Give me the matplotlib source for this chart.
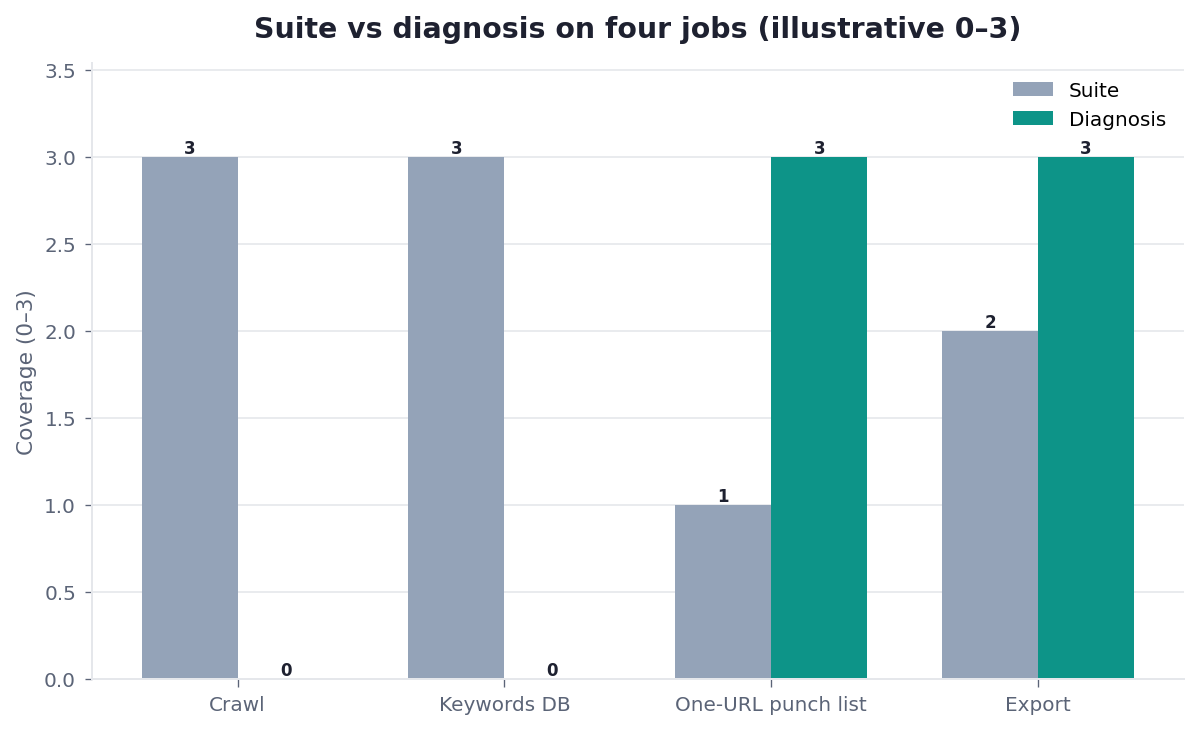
import numpy as np
import matplotlib.pyplot as plt

# Data
jobs = ["Crawl", "Keywords DB", "One-URL punch list", "Export"]
suite = [3, 3, 1, 2]
diagnosis = [0, 0, 3, 3]

suite_color = "#94A3B8"
diag_color = "#0D9488"
text_dark = "#1E2130"
text_muted = "#5B6477"
line_light = "#E5E7EB"

fig, ax = plt.subplots(figsize=(9.99, 6.09), dpi=120)
fig.subplots_adjust(left=0.0767, right=0.9875, bottom=0.0698, top=0.9124)

x = np.arange(len(jobs))
w = 0.36
b1 = ax.bar(x - w / 2, suite, w, label="Suite", color=suite_color)
b2 = ax.bar(x + w / 2, diagnosis, w, label="Diagnosis", color=diag_color)

for bars in (b1, b2):
    for bar in bars:
        h = bar.get_height()
        ax.text(bar.get_x() + bar.get_width() / 2, h, f"{h:g}",
                ha="center", va="bottom", fontsize=10, fontweight="bold",
                color=text_dark)

ax.set_xticks(x)
ax.set_xticklabels(jobs)
ax.set_ylim(0, 3.54)
ax.set_ylabel("Coverage (0–3)", fontsize=13, color=text_muted)
ax.set_title("Suite vs diagnosis on four jobs (illustrative 0–3)",
             fontsize=17, fontweight="bold", color=text_dark, pad=15.5)

ax.grid(axis="y", color=line_light, linewidth=1)
ax.set_axisbelow(True)
for side in ("top", "right"):
    ax.spines[side].set_visible(False)
for side in ("left", "bottom"):
    ax.spines[side].set_color(line_light)
    ax.spines[side].set_linewidth(1.2)
ax.tick_params(colors=text_muted, labelsize=12, length=4.5, pad=5)

leg = ax.legend(frameon=False, fontsize=12, loc="upper right")

fig.savefig("out.png")
